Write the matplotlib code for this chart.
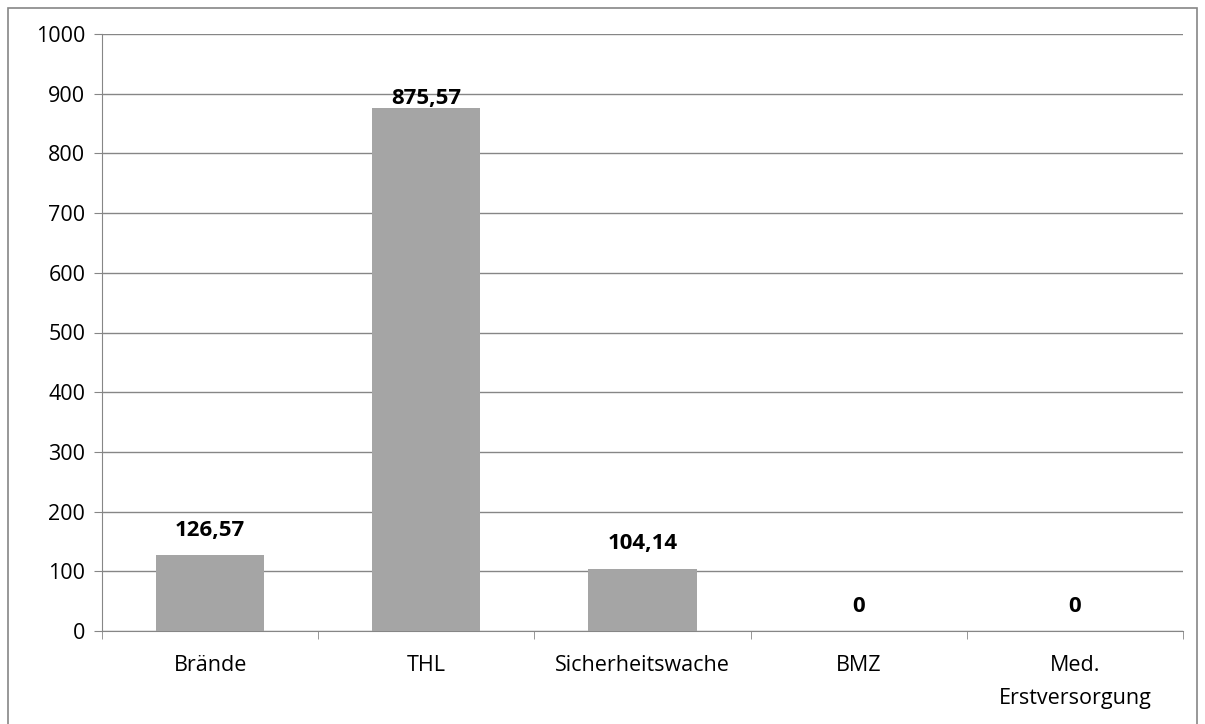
import numpy as np
import matplotlib.pyplot as plt
from matplotlib.patches import Rectangle

categories = ['Brände', 'THL', 'Sicherheitswache', 'BMZ', 'Med.\nErstversorgung']
values = [126.57, 875.57, 104.14, 0, 0]
labels = ['126,57', '875,57', '104,14', '0', '0']
yticks = [0, 100, 200, 300, 400, 500, 600, 700, 800, 900, 1000]

plt.rcParams['font.family'] = ['Open Sans', 'DejaVu Sans']
W, H = 1205, 724
fig = plt.figure(figsize=(W / 100, H / 100), dpi=100)
ax = fig.add_axes([102 / W, 1 - 631 / H, (1183 - 102) / W, (631 - 34) / H])

x = np.arange(len(categories))
ax.bar(x, values, width=0.5, color='#A5A5A5', zorder=3)
for xi, v, lab in zip(x, values, labels):
    # Excel schiebt das oberste Label nach unten an den Balken
    dy = 3 if v > 800 else 14
    ax.annotate(lab, (xi, v), xytext=(0, dy), textcoords='offset points',
                ha='center', va='baseline', fontsize=16,
                fontweight='bold', zorder=4)

ax.set_xlim(-0.5, len(categories) - 0.5)
ax.set_ylim(0, 1000)
ax.set_yticks(yticks)
ax.tick_params(axis='y', labelsize=15.5, length=6, color='#868686', pad=6)
ax.yaxis.grid(True, color='#868686', linewidth=1, zorder=0)

ax.set_xticks(x)
ax.set_xticklabels(categories, fontsize=15.5, linespacing=1.75)
ax.tick_params(axis='x', length=0, pad=17)
ax.set_xticks(np.arange(len(categories) + 1) - 0.5, minor=True)
ax.tick_params(axis='x', which='minor', length=6, color='#868686')

for s in ['top', 'right']:
    ax.spines[s].set_visible(False)
ax.spines['left'].set_color('#868686')
ax.spines['bottom'].set_color('#868686')

fig.patches.append(Rectangle((8 / W, -0.05), (1197 - 8) / W, 1.05 - 8 / H,
                             transform=fig.transFigure, fill=False,
                             edgecolor='#868686', linewidth=1.2))

fig.savefig('out.png', dpi=100)
